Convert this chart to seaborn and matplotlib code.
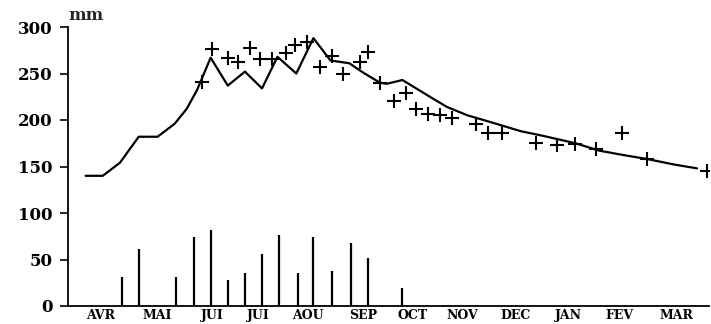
import matplotlib
matplotlib.use("Agg")
import matplotlib.pyplot as plt
import seaborn as sns
import pandas as pd

# ---- data (x in days since 1 April) ----
month_labels = ["AVR", "MAI", "JUI", "JUI", "AOU", "SEP", "OCT", "NOV", "DEC", "JAN", "FEV", "MAR"]
month_pos = [14, 47, 79, 106, 135, 167, 196, 225, 256, 287, 317, 350]

line_day = [5, 15, 25, 36, 47, 57, 64, 70, 78, 88, 98, 108, 117, 128, 138, 148, 159, 167,
            177, 181, 190, 198, 206, 216, 228, 241, 259, 272, 291, 305, 320, 333, 349, 362]
line_mm = [140, 140, 154, 182, 182, 196, 212, 232, 267, 237, 252, 234, 268, 250, 288, 264, 261, 251,
           240, 239, 243, 234, 225, 214, 205, 198, 188, 183, 175, 167, 162, 158, 152, 148]

obs_day = [73, 79, 88, 94, 101, 107, 114, 122, 127, 134, 142, 149, 155, 165, 170, 177,
           185, 192, 198, 205, 212, 219, 233, 240, 248, 268, 280, 291, 303, 318, 333, 368]
obs_mm = [241, 276, 267, 262, 277, 266, 266, 272, 281, 284, 257, 269, 250, 262, 273, 240,
          220, 229, 212, 206, 205, 202, 196, 186, 186, 175, 173, 174, 169, 186, 158, 145]

rain_day = [26, 36, 58, 68, 78, 88, 98, 108, 118, 129, 138, 149, 160, 170, 190]
rain_mm = [31, 61, 31, 74, 82, 28, 36, 56, 76, 35, 74, 38, 68, 52, 19]

line_df = pd.DataFrame({"day": line_day, "mm": line_mm})
obs_df = pd.DataFrame({"day": obs_day, "mm": obs_mm})

sns.set_style("ticks")
plt.rcParams["font.family"] = ["DejaVu Serif"]
plt.rcParams["font.weight"] = "bold"

fig = plt.figure(figsize=(7.11, 3.24), dpi=100)
ax = fig.add_axes([68 / 711, 18 / 324, (709 - 68) / 711, 279 / 324])

ax.vlines(rain_day, 0, rain_mm, color="black", linewidth=1.6)
sns.lineplot(data=line_df, x="day", y="mm", ax=ax, color="black", linewidth=1.6, sort=False)
sns.scatterplot(data=obs_df, x="day", y="mm", ax=ax, marker="+", s=110, color="black",
                linewidth=1.5, zorder=3)

ax.set_xlim(-5.3, 369)
ax.set_ylim(0, 300)
ax.set_yticks([0, 50, 100, 150, 200, 250, 300])
ax.set_xticks(month_pos)
ax.set_xticklabels(month_labels)
ax.set_xlabel("")
ax.set_ylabel("")

for lab in ax.get_yticklabels():
    lab.set_fontsize(12)
    lab.set_fontweight("bold")
for lab in ax.get_xticklabels():
    lab.set_fontsize(9)
    lab.set_fontweight("bold")

ax.tick_params(axis="y", length=6, width=1.2, pad=5, colors="black")
ax.tick_params(axis="x", length=0, pad=2, colors="black")

for s in ["top", "right"]:
    ax.spines[s].set_visible(False)
for s in ["left", "bottom"]:
    ax.spines[s].set_color("black")
    ax.spines[s].set_linewidth(1.3)

fig.text(68 / 711, 1 - 20 / 324, "mm", ha="left", va="baseline", fontsize=12,
         fontweight="bold", family="DejaVu Serif")

fig.savefig("out.png", dpi=100, facecolor="white")
